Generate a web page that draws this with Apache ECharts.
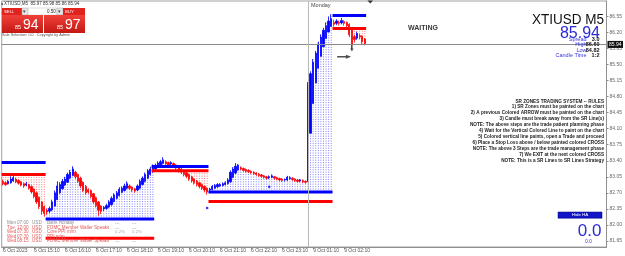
<!DOCTYPE html>
<html><head><meta charset="utf-8">
<script src="https://cdn.jsdelivr.net/npm/echarts@6.0.0/dist/echarts.min.js"></script>
<style>html,body{margin:0;padding:0;background:#fff;}#chart{width:625px;height:256px;}</style>
</head><body><div id="chart"></div>
<script>
const FONT = '"Liberation Sans", Arial, sans-serif';

// Heiken Ashi candles (XTIUSD M5), bar 0 = 6 Oct 14:10
const haOpen = [82.95,82.92,82.90,82.92,82.96,83.00,82.97,82.94,82.90,82.87,82.88,82.84,82.78,82.70,82.60,82.50,
82.40,82.32,82.30,82.33,82.41,82.55,82.70,82.79,82.87,82.93,83.02,83.08,83.15,83.10,83.02,82.93,82.84,82.77,82.75,82.68,
82.59,82.50,82.41,82.35,82.36,82.39,82.44,82.51,82.58,82.64,82.71,82.75,82.80,82.85,82.82,82.79,82.76,82.80,82.88,82.95,
83.02,83.10,83.16,83.22,83.26,83.30,83.34,83.38,83.36,83.33,83.34,83.31,83.27,83.22,83.18,83.14,83.10,83.05,83.00,82.96,
82.92,82.88,82.84,82.80,82.76,82.77,82.80,82.83,82.85,82.86,82.88,82.90,82.94,83.04,83.13,83.20,83.25,83.23,83.21,83.19,
83.17,83.15,83.13,83.11,83.09,83.07,83.05,83.03,83.04,83.05,83.03,83.01,83.00,82.98,82.98,83.01,83.02,83.00,82.98,82.96,
82.97,82.95,82.94,84.00,84.65,85.10,85.42,85.68,85.89,86.07,86.21,86.33,86.42,86.40,86.42,86.41,86.44,86.42,86.38,86.27,
86.11,86.08,86.13,86.12,86.06];
const haClose = [82.90,82.88,82.95,83.00,83.03,82.94,82.91,82.87,82.85,82.90,82.80,82.72,82.62,82.50,82.40,82.30,
82.25,82.28,82.36,82.50,82.70,82.85,82.88,82.95,83.00,83.10,83.15,83.22,83.05,82.95,82.85,82.75,82.70,82.72,82.62,82.50,
82.42,82.32,82.30,82.38,82.42,82.50,82.58,82.65,82.70,82.78,82.80,82.85,82.90,82.80,82.76,82.74,82.85,82.95,83.02,83.10,
83.18,83.22,83.28,83.30,83.35,83.38,83.42,83.33,83.30,83.36,83.28,83.24,83.18,83.15,83.10,83.06,83.00,82.96,82.92,82.88,
82.84,82.80,82.76,82.72,82.78,82.84,82.86,82.88,82.88,82.90,82.92,82.98,83.15,83.22,83.28,83.30,83.22,83.19,83.17,83.16,
83.14,83.12,83.10,83.08,83.06,83.04,83.02,83.05,83.07,83.02,83.00,82.98,82.97,82.99,83.04,83.03,82.99,82.97,82.95,82.98,
82.94,82.93,85.05,85.30,85.55,85.75,85.95,86.10,86.25,86.35,86.45,86.50,86.38,86.45,86.40,86.46,86.40,86.35,86.15,85.95,
86.05,86.18,86.10,86.00,85.96];
const haLow = [82.86,82.85,82.88,82.90,82.94,82.91,82.88,82.84,82.81,82.84,82.77,82.68,82.58,82.46,82.35,82.22,
82.18,82.22,82.26,82.30,82.40,82.54,82.68,82.77,82.85,82.92,83.00,83.06,83.00,82.92,82.80,82.72,82.66,82.68,82.58,82.46,
82.38,82.20,82.24,82.30,82.33,82.37,82.42,82.49,82.56,82.62,82.69,82.73,82.78,82.76,82.72,82.70,82.74,82.78,82.86,82.93,
83.00,83.08,83.14,83.20,83.24,83.28,83.32,83.29,83.26,83.30,83.24,83.20,83.14,83.11,83.06,83.02,82.96,82.92,82.88,82.84,
82.80,82.76,82.71,82.66,82.72,82.75,82.78,82.81,82.83,82.84,82.86,82.88,82.92,83.02,83.11,83.18,83.19,83.16,83.14,83.13,
83.11,83.09,83.07,83.05,83.03,83.01,82.99,83.00,83.02,82.99,82.97,82.95,82.94,82.95,82.96,82.99,82.96,82.94,82.92,82.93,
82.91,82.90,82.94,84.00,84.65,85.10,85.42,85.68,85.89,86.07,86.21,86.33,86.33,86.36,86.35,86.38,86.35,86.30,86.10,85.82,
85.98,86.04,86.05,85.95,85.92];
const haHigh = [82.99,82.95,82.98,83.06,83.12,83.03,82.99,82.96,82.92,82.94,82.90,82.86,82.80,82.73,82.62,82.52,
82.42,82.36,82.40,82.55,82.75,82.95,82.93,83.00,83.05,83.14,83.20,83.28,83.18,83.12,83.05,82.95,82.87,82.80,82.77,82.70,
82.62,82.52,82.43,82.41,82.46,82.54,82.62,82.69,82.74,82.82,82.84,82.90,82.95,82.88,82.84,82.81,82.88,82.99,83.06,83.14,
83.22,83.27,83.32,83.34,83.39,83.42,83.48,83.41,83.38,83.39,83.36,83.33,83.29,83.24,83.20,83.16,83.12,83.07,83.02,82.98,
82.94,82.90,82.86,82.82,82.81,82.87,82.89,82.91,82.91,82.93,82.95,83.02,83.19,83.26,83.35,83.33,83.28,83.25,83.23,83.21,
83.19,83.17,83.15,83.13,83.11,83.09,83.07,83.08,83.10,83.07,83.05,83.03,83.02,83.01,83.07,83.06,83.04,83.02,83.00,83.00,
82.99,82.97,85.12,85.35,85.62,85.80,86.00,86.16,86.30,86.42,86.55,86.60,86.48,86.49,86.46,86.52,86.47,86.44,86.40,86.29,
86.15,86.22,86.17,86.14,86.08];

// time axis tick labels (category indices)
const timeTickIdx = [0,12,24,36,48,60,72,84,96,108,120,132];
const timeTickLabels = ['6 Oct 2023','6 Oct 15:10','6 Oct 16:10','6 Oct 17:10','6 Oct 18:10','6 Oct 19:10',
  '6 Oct 20:10','6 Oct 21:10','6 Oct 22:10','6 Oct 23:10','9 Oct 01:10','9 Oct 02:10'];
const priceTickValues = [86.55,86.20,85.85,85.50,85.15,84.80,84.45,84.10,83.75,83.40,83.05,82.70,82.35,82.00,81.65];
const bidPrice = 85.94;
const mondayIdx = 118;

// SR zones
const zoneStart = [0,17,58,80,128];
const zoneEnd   = [16,58,79,127,140];
const zoneBlue  = [83.36,82.13,83.275,82.72,86.57];
const zoneRed   = [83.10,81.71,83.18,82.51,86.29];
const zoneSide  = ['below','above','below','above','below'];

// signal marks
const dotIdx = [79,103];
const dotPrice = [82.37,82.83];
const arrowRight = [132,85.67];
const arrowDown = [135,85.86];

// texts
const rulesLines = ['SR ZONES TRADING SYSTEM -- RULES','1) SR Zones must be painted on the chart',
'2) A previous Colored ARROW must be painted on the chart','3) Candle must break away from the SR Line(s)',
'NOTE: The above steps are the trade patient planning phase','4) Wait for the Vertical Colored Line to paint on the chart',
'5) Colored vertical line paints, open a Trade and proceed','6) Place a Stop Loss above / below painted colored CROSS',
'NOTE: The above 3 Steps are the trade management phase','7) We EXIT at the next colored CROSS',
'NOTE: This is a SR Lines to SR Lines Strategy'];
const calDay = ['Mon','Tue','Wed','Wed','Wed'];
const calTime = ['07:00','12:00','07:30','07:30','08:15'];
const calCur = ['USD','USD','USD','USD','USD'];
const calEvent = ['Bank Holiday','FOMC Member Waller Speaks','Core PPI m/m','PPI m/m','FOMC Member Waller Speaks'];
const calFcst = ['---','---','0.2%','','---'];
const calPrev = ['---','---','0.2%','','---'];

// categories (M5 bars; weekend gap)
const pad = n => (n < 10 ? '0' : '') + n;
const categories = [];
for (let i = 0; i < 234; i++) {
  let m, d;
  if (i < mondayIdx) { m = 14*60 + 10 + 5*i; d = '6 Oct '; } else { m = 60 + 5*(i - mondayIdx); d = '9 Oct '; }
  categories.push(d + pad(Math.floor(m/60)) + ':' + pad(m % 60));
}

const candleData = haOpen.map((o, i) => [o, haClose[i], haLow[i], haHigh[i]]);

const dotted = [];
for (let z = 0; z < zoneStart.length; z++) {
  for (let i = zoneStart[z]; i <= zoneEnd[z] && i < haOpen.length; i++) {
    if (zoneSide[z] === 'below' && haLow[i] < zoneRed[z]) dotted.push([i, zoneRed[z], haLow[i], 0]);
    if (zoneSide[z] === 'above' && haHigh[i] > zoneBlue[z]) dotted.push([i, zoneBlue[z], haHigh[i], 1]);
  }
}
const srData = [];
for (let z = 0; z < zoneStart.length; z++) {
  srData.push([zoneStart[z], zoneEnd[z], zoneBlue[z], 1]);
  srData.push([zoneStart[z], zoneEnd[z], zoneRed[z], 0]);
}

// overlay graphics (panels & texts)
const G = [];
function T(x, y, text, size, fill, extra) {
  G.push({type:'text', x:x, y:y, silent:true, z:100,
    style:Object.assign({text:text, fontSize:size, fontFamily:FONT, fill:fill, align:'left', verticalAlign:'middle'}, extra || {})});
}
function R(x, y, w, h, fill, stroke) {
  G.push({type:'rect', silent:true, z:99, shape:{x:x, y:y, width:w, height:h},
    style:{fill:fill, stroke:stroke || null, lineWidth:stroke ? 0.5 : 0}});
}
const redGrad = new echarts.graphic.LinearGradient(0,0,0,1,[{offset:0,color:'#f0403a'},{offset:1,color:'#c41812'}]);
G.push({type:'polygon', silent:true, z:100, shape:{points:[[1,4.8],[3.4,4.8],[2.2,2.6]]}, style:{fill:'#444'}});
T(4, 3.8, 'XTIUSD,M5  85.97 85.98 85.86 85.94', 4.5, '#333');
R(2, 8, 20, 7, '#e2221c');
T(4, 11.6, 'SELL', 4.3, '#fff');
R(22, 8, 6, 7, '#e6e6e6', '#aaa'); T(23.4, 11.5, '▾', 4.5, '#444');
R(28, 8, 29, 7, '#ffffff', '#bbb'); T(47, 11.6, '0.50', 4.5, '#222');
R(57, 8, 6, 7, '#e6e6e6', '#aaa'); T(58.4, 11.5, '▾', 4.5, '#444');
R(63, 8, 22, 7, '#e2221c');
T(65, 11.6, 'BUY', 4.3, '#fff');
R(2, 15, 41, 18, redGrad); R(44, 15, 41, 18, redGrad);
T(15, 27.8, '85', 5.5, '#fff'); T(23, 25.5, '94', 14, '#fff');
T(57, 27.8, '85', 5.5, '#fff'); T(65, 25.5, '97', 14, '#fff');
T(2, 34.8, 'Sale Selection: 0.0   Copyright by Admin', 3.8, '#555');

T(311, 5, 'Monday', 5.5, '#444');
G.push({type:'polygon', silent:true, z:100, shape:{points:[[367.5,0.5],[373,0.5],[370.25,3.5]]}, style:{fill:'#333'}});
T(408, 28, 'WAITING', 7, '#3a3a3a', {fontWeight:'bold'});

G.push({type:'group', x:604, y:19.5, scaleX:0.9, children:[{type:'text', x:0, y:0, silent:true, z:100,
  style:{text:'XTIUSD M5', fontSize:15, fontFamily:FONT, fill:'#111', align:'right', verticalAlign:'middle'}}]});
T(600, 34, '85.94', 16, '#2a2ad2', {align:'right'});
const infoLab = ['Spread','High','Low','Candle Time'];
const infoVal = ['3.0','86.60','84.82','1:2'];
const infoY = [39.5, 44.5, 50, 55.5];
for (let k = 0; k < infoLab.length; k++) {
  T(586.5, infoY[k], infoLab[k], 5.5, '#3434e0', {align:'right'});
  T(599.5, infoY[k], infoVal[k], 5.5, '#111', {align:'right', fontWeight:'bold'});
}

G.push({type:'group', x:604, y:101, scaleX:0.85, children: rulesLines.map((s, k) => ({
  type:'text', x:0, y:k*5.97, silent:true, z:100,
  style:{text:s, fontSize:5.5, fontFamily:FONT, fontWeight:'bold', fill:'#222', align:'right', verticalAlign:'middle'}}))});

const calY = [222.3, 227.3, 232, 236.7, 241.2];
for (let k = 0; k < calDay.length; k++) {
  const c = k === 0 ? '#8c8c8c' : '#e25a5a';
  T(7, calY[k], calDay[k], 4.6, c);
  T(17, calY[k], calTime[k], 4.6, c);
  T(32, calY[k], calCur[k], 4.6, c);
  T(47, calY[k], calEvent[k], 4.6, c);
  if (calFcst[k]) T(115, calY[k], calFcst[k], 4.4, '#a8a8a8');
  if (calPrev[k]) T(132, calY[k], calPrev[k], 4.4, '#a8a8a8');
}

R(558, 212, 44, 6.2, '#1414c8', '#000080');
T(580, 215.2, 'Hide HA', 4.4, '#fff', {align:'center'});
T(601.5, 231, '0.0', 17, '#2a2ad2', {align:'right'});
T(588.5, 242, '0.0', 4.6, '#2a2ad2', {align:'center'});

const chart = echarts.init(document.getElementById('chart'));
chart.setOption({
  animation: false,
  backgroundColor: '#ffffff',
  grid: {left: 0, right: 16, top: 1, bottom: 9, show: true, borderColor: '#a0a0a0', borderWidth: 1},
  xAxis: {
    type: 'category', data: categories, boundaryGap: true,
    axisLine: {show: true, lineStyle: {color: '#909090', width: 1}},
    axisTick: {show: true, length: 2, alignWithLabel: true, interval: (i) => timeTickIdx.indexOf(i) >= 0, lineStyle: {color: '#909090'}},
    axisLabel: {interval: (i) => timeTickIdx.indexOf(i) >= 0, align: 'left', margin: 1.5, fontSize: 5, color: '#555', fontFamily: FONT,
      formatter: (v, i) => { const k = timeTickIdx.indexOf(i); return k >= 0 ? timeTickLabels[k] : ''; }},
    splitLine: {show: false}
  },
  yAxis: {
    type: 'value', position: 'right', min: 81.517, max: 86.888, scale: true,
    axisLine: {show: true, lineStyle: {color: '#909090', width: 1}},
    axisTick: {show: true, length: 2, customValues: priceTickValues, lineStyle: {color: '#909090'}},
    axisLabel: {customValues: priceTickValues, fontSize: 5, color: '#666', margin: 3, fontFamily: FONT, formatter: (v) => v.toFixed(2)},
    splitLine: {show: false}
  },
  series: [
    {
      type: 'custom', name: 'zoneDots', z: 1, silent: true,
      encode: {x: 0, y: [1, 2]},
      data: dotted,
      renderItem: (params, api) => {
        const p1 = api.coord([api.value(0), api.value(1)]);
        const p2 = api.coord([api.value(0), api.value(2)]);
        return {type: 'line', shape: {x1: p1[0], y1: p1[1], x2: p2[0], y2: p2[1]},
          style: {stroke: api.value(3) ? '#3030ff' : '#ff3030', lineWidth: 0.9, lineDash: [1, 1.4], opacity: 0.7}};
      }
    },
    {
      type: 'candlestick', name: 'HA', z: 2, data: candleData, barWidth: 1.8,
      itemStyle: {color: '#0000ff', color0: '#ff0000', borderColor: '#0000ff', borderColor0: '#ff0000', borderWidth: 0.8},
      markLine: {
        silent: true, symbol: ['none', 'none'], animation: false,
        data: [
          {yAxis: bidPrice, lineStyle: {color: '#8a8a8a', width: 1, type: 'solid'},
            label: {show: true, position: 'end', distance: 1, formatter: bidPrice.toFixed(2), fontSize: 5, color: '#fff',
              backgroundColor: '#111', padding: [1, 1.5], fontFamily: FONT}},
          {xAxis: categories[mondayIdx], lineStyle: {color: '#b8b8b8', width: 1, type: 'solid'}, label: {show: false}}
        ]
      }
    },
    {
      type: 'custom', name: 'srLines', z: 3, silent: true,
      encode: {x: [0, 1], y: 2},
      data: srData,
      renderItem: (params, api) => {
        const band = api.size([1, 0])[0];
        const pL = api.coord([api.value(0), api.value(2)]);
        const pR = api.coord([api.value(1), api.value(2)]);
        return {type: 'rect', shape: {x: pL[0] - band/2, y: pL[1] - 1.5, width: pR[0] - pL[0] + band, height: 3},
          style: {fill: api.value(3) ? '#0000ff' : '#ff0000'}};
      }
    },
    {
      type: 'scatter', name: 'signals', z: 4, silent: true,
      data: [
        ...dotIdx.map((d, k) => ({value: [d, dotPrice[k]], symbol: 'circle', symbolSize: 2.6, itemStyle: {color: '#0000ff'}})),
        {value: arrowRight, symbol: 'path://M0,3 L10,3 L10,0 L16,5 L10,10 L10,7 L0,7 Z', symbolSize: [14, 4], itemStyle: {color: '#222'}},
        {value: arrowDown, symbol: 'path://M3,0 L7,0 L7,8 L10,8 L5,14 L0,8 L3,8 Z', symbolSize: [3.5, 7], itemStyle: {color: '#333'}}
      ]
    }
  ],
  graphic: G
});
</script></body></html>
